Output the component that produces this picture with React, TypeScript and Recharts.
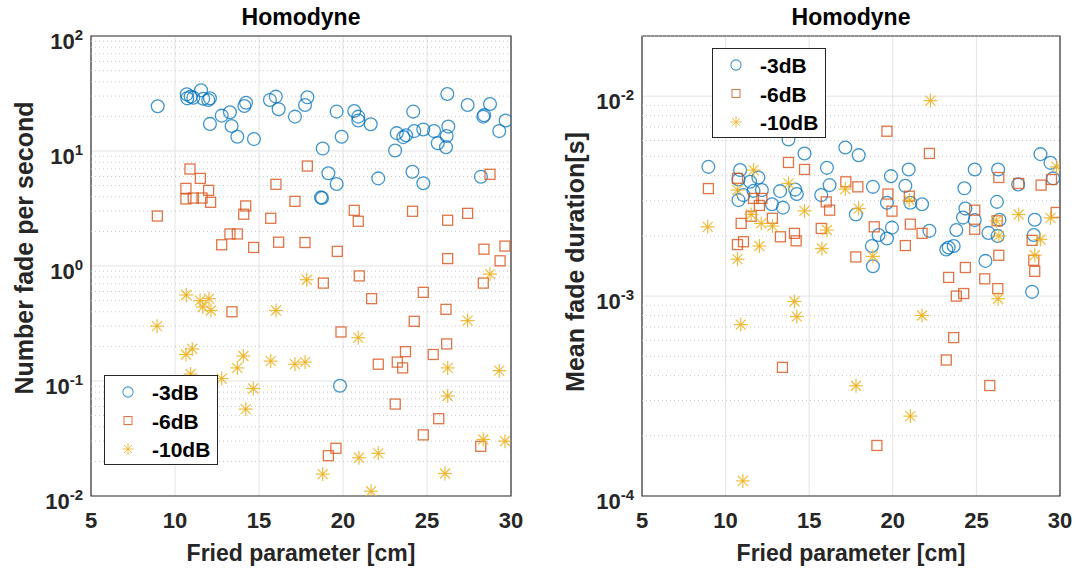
import {
  CartesianGrid,
  ReferenceArea,
  ReferenceLine,
  Scatter,
  ScatterChart,
  XAxis,
  YAxis,
} from "recharts";

const BLUE = "#0072BD";
const ORANGE = "#D95319";
const YELLOW = "#EDB120";
const INK = "#262626";
const FONT = '"Liberation Sans", Arial, Helvetica, sans-serif';

const friedTicks = [5, 10, 15, 20, 25, 30];
const rateTicks = [0.01, 0.1, 1, 10, 100];
const durationTicks = [1e-4, 1e-3, 1e-2];
const seriesNames = ["-3dB", "-6dB", "-10dB"];

// [Fried parameter cm, fades per second]
const rate3dB: [number, number][] = [
  [8.97, 24.5], [10.7, 31.1], [10.73, 28.7], [10.93, 29.7], [11.09, 29.1], [11.55, 33.7],
  [11.68, 28.5], [11.98, 27.8], [12.08, 28.7], [12.08, 17.2], [12.78, 20.3], [13.27, 21.7],
  [13.37, 16.5], [13.71, 13.3], [14.13, 24.6], [14.23, 26.3], [14.7, 12.7], [15.65, 27.8],
  [16.0, 29.7], [16.17, 23.1], [17.14, 19.9], [17.74, 25.1], [17.88, 29.3], [19.62, 22.0],
  [18.79, 10.5], [19.92, 13.3], [20.67, 22.3], [20.91, 19.9], [20.91, 18.4], [21.65, 17.1],
  [19.13, 6.4], [19.62, 5.16], [18.69, 3.95], [18.75, 3.9], [22.1, 5.78], [23.2, 14.3],
  [23.1, 10.1], [23.59, 13.2], [23.75, 13.7], [24.24, 14.9], [24.78, 15.4], [25.42, 14.9],
  [25.64, 11.7], [26.17, 13.5], [26.27, 16.3], [26.13, 10.8], [24.18, 22.0], [24.13, 6.6],
  [24.78, 5.24], [26.21, 31.3], [27.42, 25.1], [28.75, 25.6], [28.35, 19.9], [28.4, 20.5],
  [29.3, 14.9], [29.68, 18.4], [28.21, 5.98], [19.82, 0.091],
];
const rate6dB: [number, number][] = [
  [8.95, 2.72], [10.89, 6.97], [11.51, 5.78], [10.65, 4.73], [10.65, 3.83], [11.09, 3.9],
  [11.61, 3.9], [12.0, 4.55], [12.12, 3.58], [14.21, 3.33], [14.09, 2.82], [16.01, 5.13],
  [15.7, 2.6], [17.14, 3.65], [12.78, 1.53], [13.27, 1.9], [13.71, 1.9], [14.68, 1.45],
  [16.17, 1.61], [13.39, 0.4], [17.88, 7.4], [20.67, 3.05], [20.91, 2.45], [24.14, 2.99],
  [26.23, 2.5], [27.42, 2.87], [28.75, 6.27], [17.74, 1.6], [19.66, 1.34], [26.23, 1.16],
  [28.39, 1.4], [29.64, 1.49], [29.35, 1.11], [20.97, 0.82], [18.83, 0.71], [21.7, 0.52],
  [24.78, 0.59], [28.35, 0.71], [26.13, 0.42], [24.24, 0.33], [19.88, 0.267], [26.17, 0.21],
  [23.72, 0.18], [25.37, 0.17], [23.23, 0.146], [23.55, 0.13], [22.1, 0.14], [23.11, 0.063],
  [25.7, 0.047], [24.78, 0.034], [28.2, 0.027], [19.58, 0.026], [19.13, 0.0224],
];
const rate10dB: [number, number][] = [
  [8.93, 0.3], [10.67, 0.56], [11.49, 0.5], [12.02, 0.52], [11.65, 0.44], [12.14, 0.41],
  [16.01, 0.41], [10.65, 0.17], [11.03, 0.19], [14.07, 0.165], [13.71, 0.13], [15.7, 0.149],
  [17.14, 0.14], [10.93, 0.115], [12.78, 0.105], [14.66, 0.086], [14.21, 0.057], [17.84, 0.76],
  [20.91, 0.238], [27.42, 0.335], [28.75, 0.85], [17.74, 0.146], [26.23, 0.13], [29.3, 0.123],
  [26.23, 0.074], [18.79, 0.0155], [20.95, 0.0215], [22.1, 0.0235], [21.67, 0.011],
  [26.07, 0.0157], [28.35, 0.031], [29.64, 0.03],
];

// [Fried parameter cm, mean fade duration s]
const dur3dB: [number, number][] = [
  [8.97, 4.43e-3], [10.87, 4.27e-3], [10.77, 3.83e-3], [11.47, 3.73e-3], [11.96, 3.92e-3],
  [11.67, 3.36e-3], [12.17, 3.39e-3], [10.77, 3.02e-3], [11.07, 3.2e-3], [12.77, 2.88e-3],
  [13.26, 3.35e-3], [13.43, 2.77e-3], [14.16, 3.41e-3], [14.26, 3.24e-3], [13.76, 6.07e-3],
  [14.72, 5.17e-3], [16.06, 4.38e-3], [16.22, 3.59e-3], [17.16, 5.54e-3], [17.96, 5.07e-3],
  [15.72, 3.2e-3], [18.81, 3.52e-3], [17.79, 2.56e-3], [19.15, 2.02e-3], [18.75, 1.78e-3],
  [18.81, 1.41e-3], [19.89, 3.98e-3], [20.95, 4.3e-3], [20.75, 3.56e-3], [19.65, 2.93e-3],
  [21.05, 2.93e-3], [21.75, 2.88e-3], [19.95, 2.2e-3], [19.65, 1.94e-3], [22.19, 2.12e-3],
  [23.8, 2.14e-3], [23.2, 1.71e-3], [23.34, 1.75e-3], [23.64, 1.78e-3], [24.28, 3.46e-3],
  [24.9, 4.3e-3], [24.34, 2.74e-3], [24.2, 2.47e-3], [24.9, 2.4e-3], [25.72, 2.07e-3],
  [26.27, 2.0e-3], [26.23, 2.96e-3], [26.3, 4.3e-3], [26.38, 2.41e-3], [25.54, 1.5e-3],
  [27.5, 3.62e-3], [28.83, 5.13e-3], [29.43, 4.64e-3], [29.59, 3.88e-3], [28.49, 2.41e-3],
  [28.43, 2.02e-3], [28.33, 1.05e-3],
];
const dur6dB: [number, number][] = [
  [8.97, 3.45e-3], [10.71, 3.88e-3], [13.76, 4.66e-3], [14.72, 4.3e-3], [11.67, 3.08e-3],
  [12.17, 3.08e-3], [12.02, 2.84e-3], [11.53, 2.51e-3], [12.8, 2.45e-3], [10.93, 2.31e-3],
  [13.28, 1.98e-3], [14.12, 2.06e-3], [14.22, 1.89e-3], [11.07, 1.87e-3], [10.71, 1.81e-3],
  [16.02, 2.96e-3], [16.22, 2.69e-3], [15.72, 2.18e-3], [17.19, 3.73e-3], [17.91, 3.52e-3],
  [18.89, 2.22e-3], [17.79, 1.57e-3], [19.65, 6.68e-3], [22.19, 5.17e-3], [19.71, 3.24e-3],
  [20.99, 3.16e-3], [19.95, 2.66e-3], [21.05, 2.29e-3], [21.75, 2.06e-3], [20.75, 1.79e-3],
  [26.34, 3.92e-3], [27.53, 3.66e-3], [28.87, 3.59e-3], [29.49, 3.83e-3], [29.77, 2.62e-3],
  [24.9, 2.69e-3], [24.9, 2.16e-3], [26.24, 2.38e-3], [28.33, 1.9e-3], [26.34, 1.6e-3],
  [28.43, 1.51e-3], [28.49, 1.33e-3], [24.34, 1.39e-3], [23.34, 1.24e-3], [25.5, 1.22e-3],
  [26.28, 1.09e-3], [23.8, 1.0e-3], [24.24, 1.03e-3], [23.64, 6.2e-4], [23.2, 4.79e-4],
  [25.8, 3.57e-4], [19.05, 1.79e-4], [13.4, 4.4e-4],
];
const dur10dB: [number, number][] = [
  [11.67, 4.27e-3], [10.71, 3.39e-3], [13.76, 3.66e-3], [8.93, 2.22e-3], [11.53, 2.56e-3],
  [12.13, 2.31e-3], [12.8, 2.24e-3], [14.72, 2.67e-3], [12.02, 1.78e-3], [10.71, 1.53e-3],
  [16.06, 2.14e-3], [15.76, 1.73e-3], [17.16, 3.43e-3], [17.96, 2.74e-3], [18.81, 1.58e-3],
  [14.12, 9.4e-4], [14.26, 7.9e-4], [10.91, 7.2e-4], [17.8, 3.56e-4], [11.03, 1.19e-4],
  [21.75, 8.0e-4], [21.05, 2.51e-4], [20.99, 3.02e-3], [26.2, 2.38e-3], [26.34, 2.0e-3],
  [27.53, 2.56e-3], [29.43, 2.46e-3], [28.83, 1.92e-3], [28.49, 1.6e-3], [26.3, 9.7e-4],
  [29.79, 4.43e-3], [22.25, 9.5e-3],
];

const toPoints = (arr: [number, number][]) => arr.map(([x, y]) => ({ x, y }));

// dotted minor grid lines at 2..9 of each decade
function minorGrid(decades: number[], top: number) {
  const out: number[] = [];
  decades.forEach((d) => {
    for (let m = 2; m <= 9; m++) if (m * d <= top * 1.0001) out.push(m * d);
  });
  return out;
}

const CircleMark = (p: any) => (
  <circle cx={p.cx} cy={p.cy} r={6.4} fill="none" stroke={BLUE} strokeWidth={1.3} strokeOpacity={0.75} />
);
const SquareMark = (p: any) => (
  <rect x={p.cx - 5} y={p.cy - 5} width={10} height={10} fill="none" stroke={ORANGE} strokeWidth={1.3} strokeOpacity={0.8} />
);
const StarMark = (p: any) => {
  const r = 7;
  const d = 5;
  return (
    <g stroke={YELLOW} strokeWidth={1.2} strokeOpacity={0.85}>
      <line x1={p.cx - r} y1={p.cy} x2={p.cx + r} y2={p.cy} />
      <line x1={p.cx} y1={p.cy - r} x2={p.cx} y2={p.cy + r} />
      <line x1={p.cx - d} y1={p.cy - d} x2={p.cx + d} y2={p.cy + d} />
      <line x1={p.cx - d} y1={p.cy + d} x2={p.cx + d} y2={p.cy - d} />
    </g>
  );
};
const marks = [CircleMark, SquareMark, StarMark];

const XTick = ({ x, y, payload }: any) => (
  <text x={x} y={y + 32} textAnchor="middle" fontSize={22} fontWeight="bold" fill={INK} fontFamily={FONT}>
    {payload.value}
  </text>
);
const YTick = ({ x, y, payload }: any) => (
  <text x={x - 8} y={y + 13} textAnchor="end" fontSize={22} fontWeight="bold" fill={INK} fontFamily={FONT}>
    <tspan>10</tspan>
    <tspan dy={-9} fontSize={15}>
      {Math.round(Math.log10(payload.value))}
    </tspan>
  </text>
);

function Legend({ left, top }: { left: number; top: number }) {
  return (
    <svg width={114} height={90} style={{ position: "absolute", left, top }}>
      <rect x={0.5} y={0.5} width={113} height={89} fill="#fff" stroke={INK} />
      {seriesNames.map((name, i) => {
        const Mark = marks[i];
        const cy = 17 + i * 28.5;
        return (
          <g key={name}>
            <g transform={`translate(24 ${cy}) scale(0.8) translate(-24 ${-cy})`}>
              <Mark cx={24} cy={cy} />
            </g>
            <text x={48} y={cy + 8} fontSize={21} fontWeight="bold" fill="#000" fontFamily={FONT}>
              {name}
            </text>
          </g>
        );
      })}
    </svg>
  );
}

type PanelProps = {
  width: number;
  marginLeft: number;
  marginRight: number;
  yDomain: [number, number];
  yTicks: number[];
  yMinor: number[];
  series: [number, number][][];
  yLabel: string;
  yLabelX: number;
  yLabelY: number;
  centerX: number;
};

function Panel(props: PanelProps) {
  const { width, marginLeft, marginRight, yDomain, yTicks, yMinor, series, yLabel, yLabelX, yLabelY, centerX } = props;
  return (
    <ScatterChart width={width} height={571} margin={{ top: 36, right: marginRight, bottom: 35, left: marginLeft }}>
      <CartesianGrid stroke="#e3e3e3" strokeWidth={1} />
      {yMinor.map((v) => (
        <ReferenceLine key={v} y={v} stroke="#c8c8c8" strokeDasharray="1 3" strokeWidth={1} />
      ))}
      <XAxis
        dataKey="x"
        type="number"
        domain={[5, 30]}
        ticks={friedTicks}
        allowDataOverflow
        axisLine={false}
        tickLine={false}
        tickSize={0}
        tickMargin={0}
        height={40}
        tick={XTick}
        label={{
          content: () => (
            <g fontFamily={FONT} fontWeight="bold" fill={INK} textAnchor="middle">
              <text x={centerX} y={25} fontSize={23} fill="#000">
                Homodyne
              </text>
              <text x={centerX} y={561} fontSize={23}>
                Fried parameter [cm]
              </text>
            </g>
          ),
        }}
      />
      <YAxis
        dataKey="y"
        type="number"
        scale="log"
        domain={yDomain}
        ticks={yTicks}
        allowDataOverflow
        axisLine={false}
        tickLine={false}
        tickSize={0}
        tickMargin={0}
        width={80}
        tick={YTick}
        label={{
          content: () => (
            <text
              x={yLabelX}
              y={yLabelY}
              transform={`rotate(-90 ${yLabelX} ${yLabelY})`}
              textAnchor="middle"
              dominantBaseline="central"
              fontSize={25}
              fontWeight="bold"
              fill={INK}
              fontFamily={FONT}
            >
              {yLabel}
            </text>
          ),
        }}
      />
      {series.map((s, i) => (
        <Scatter key={seriesNames[i]} name={seriesNames[i]} data={toPoints(s)} shape={marks[i]} isAnimationActive={false} />
      ))}
      <ReferenceArea x1={5} x2={30} y1={yDomain[0]} y2={yDomain[1]} fill="none" fillOpacity={0} stroke="#333" strokeWidth={1.2} />
    </ScatterChart>
  );
}

export default function App() {
  return (
    <div style={{ position: "absolute", left: 0, top: 0, width: 1076, height: 571, background: "#fff", fontFamily: FONT }}>
      <div style={{ position: "absolute", left: 0, top: 0 }}>
        <Panel
          width={540}
          marginLeft={11}
          marginRight={29}
          yDomain={[0.01, 100]}
          yTicks={rateTicks}
          yMinor={minorGrid([0.01, 0.1, 1, 10], 100)}
          series={[rate3dB, rate6dB, rate10dB]}
          yLabel="Number fade per second"
          yLabelX={24}
          yLabelY={248}
          centerX={301}
        />
      </div>
      <div style={{ position: "absolute", left: 540, top: 0 }}>
        <Panel
          width={536}
          marginLeft={22}
          marginRight={16}
          yDomain={[1e-4, 0.02]}
          yTicks={durationTicks}
          yMinor={minorGrid([1e-4, 1e-3, 1e-2], 0.02)}
          series={[dur3dB, dur6dB, dur10dB]}
          yLabel="Mean fade duration[s]"
          yLabelX={35}
          yLabelY={262}
          centerX={311}
        />
      </div>
      <Legend left={104} top={375} />
      <Legend left={712} top={48} />
    </div>
  );
}
